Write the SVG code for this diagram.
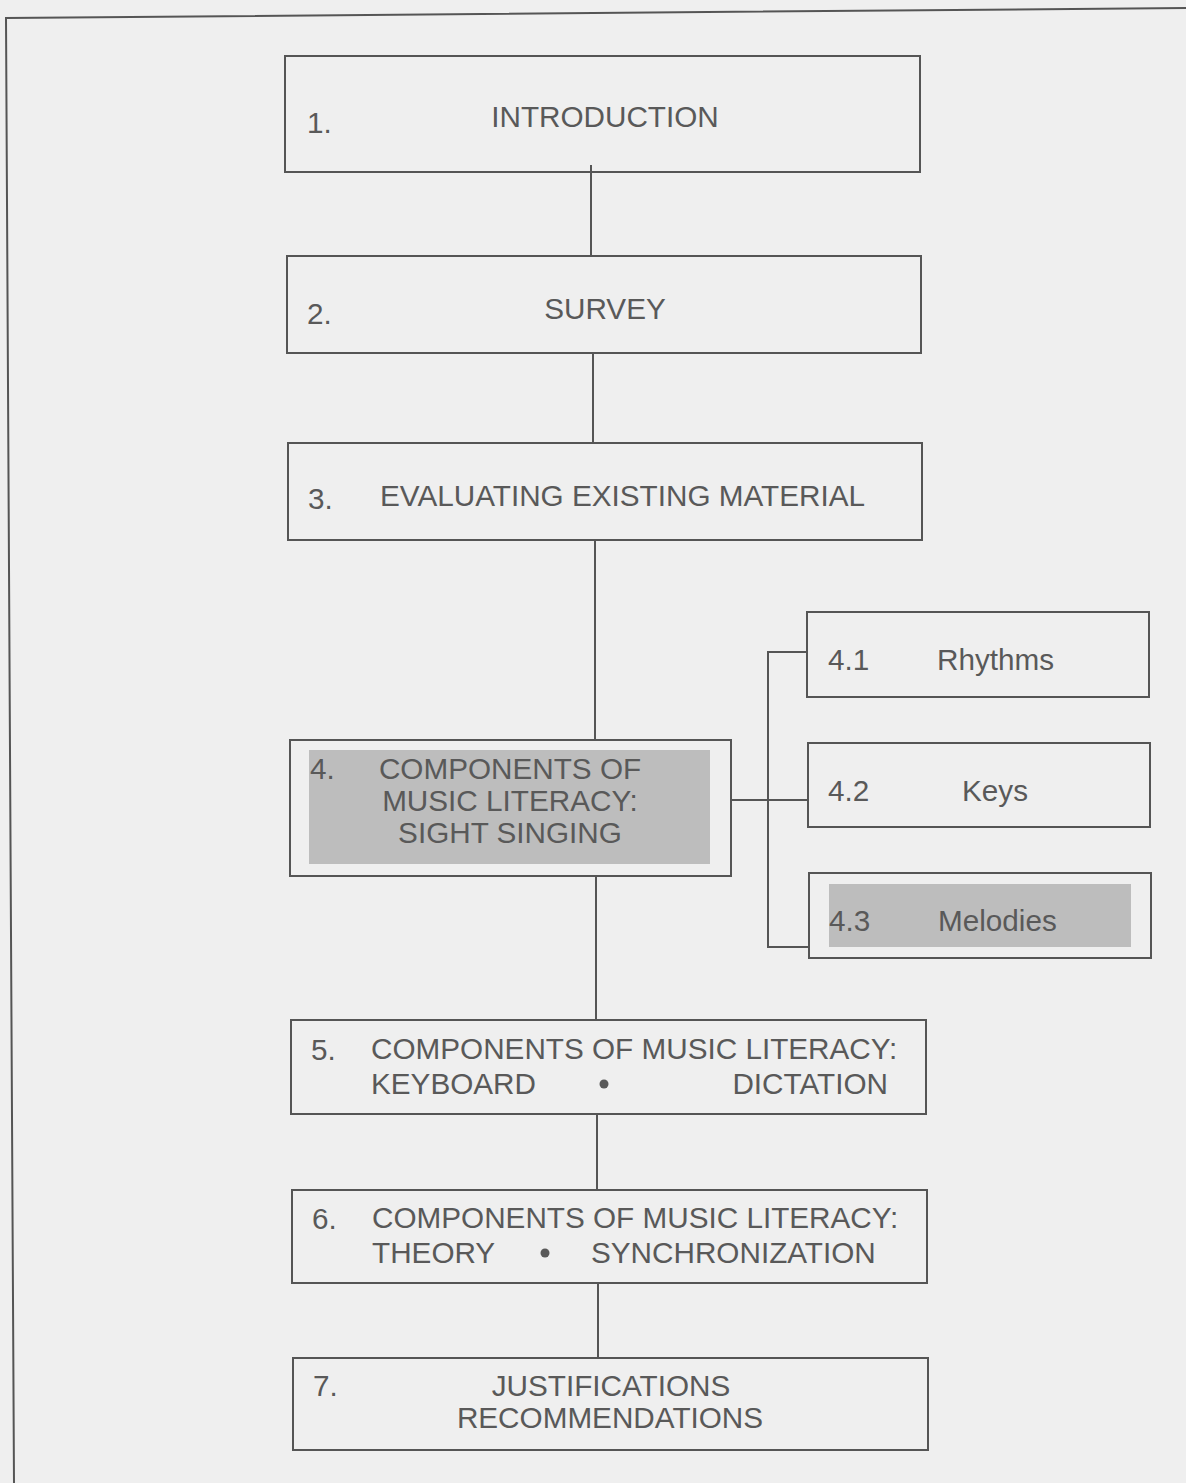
<svg xmlns="http://www.w3.org/2000/svg" width="1186" height="1483" viewBox="0 0 1186 1483">
<style>
.box{fill:none;stroke:#555;stroke-width:2}
.shade{fill:#bdbdbd}
.t{font-family:"Liberation Sans",Arial,sans-serif;font-size:29.7px;fill:#595959}
.m{text-anchor:middle}
.e{text-anchor:end}
.c{stroke:#555;stroke-width:2;fill:none}
</style>
<rect x="0" y="0" width="1186" height="1483" fill="#efefef"/>
<path d="M14,1483 L6,18 L1186,8" class="c"/>
<g id="connectors">
<line x1="591" y1="165" x2="591" y2="256" class="c"/>
<line x1="593" y1="353" x2="593" y2="443" class="c"/>
<line x1="595" y1="540" x2="595" y2="740" class="c"/>
<line x1="596" y1="876" x2="596" y2="1020" class="c"/>
<line x1="597" y1="1114" x2="597" y2="1190" class="c"/>
<line x1="598" y1="1283" x2="598" y2="1358" class="c"/>
<path d="M807,652 H768 V947 H809" class="c"/>
<line x1="731" y1="800" x2="808" y2="800" class="c"/>
</g>
<g id="n1"><rect x="285" y="56" width="635" height="116" class="box"/>
<text x="307" y="133" class="t">1.</text><text x="605" y="127" class="t m">INTRODUCTION</text></g>
<g id="n2"><rect x="287" y="256" width="634" height="97" class="box"/>
<text x="307" y="324" class="t">2.</text><text x="605" y="319" class="t m">SURVEY</text></g>
<g id="n3"><rect x="288" y="443" width="634" height="97" class="box"/>
<text x="308" y="509" class="t">3.</text><text x="380" y="506" class="t">EVALUATING EXISTING MATERIAL</text></g>
<g id="n4"><rect x="290" y="740" width="441" height="136" class="box"/>
<rect x="309" y="750" width="401" height="114" class="shade"/>
<text x="310" y="779" class="t">4.</text>
<text x="510" y="779" class="t m">COMPONENTS OF</text>
<text x="510" y="811" class="t m">MUSIC LITERACY:</text>
<text x="510" y="843" class="t m">SIGHT SINGING</text></g>
<g id="n41"><rect x="807" y="612" width="342" height="85" class="box"/>
<text x="828" y="670" class="t">4.1</text><text x="937" y="670" class="t">Rhythms</text></g>
<g id="n42"><rect x="808" y="743" width="342" height="84" class="box"/>
<text x="828" y="801" class="t">4.2</text><text x="962" y="801" class="t">Keys</text></g>
<g id="n43"><rect x="809" y="873" width="342" height="85" class="box"/>
<rect x="829" y="884" width="302" height="63" class="shade"/>
<text x="829" y="931" class="t">4.3</text><text x="938" y="931" class="t">Melodies</text></g>
<g id="n5"><rect x="291" y="1020" width="635" height="94" class="box"/>
<text x="311" y="1060" class="t">5.</text><text x="371" y="1059" class="t">COMPONENTS OF MUSIC LITERACY:</text>
<text x="371" y="1094" class="t">KEYBOARD</text><circle cx="604" cy="1084" r="4.5" fill="#595959"/>
<text x="888" y="1094" class="t e">DICTATION</text></g>
<g id="n6"><rect x="292" y="1190" width="635" height="93" class="box"/>
<text x="312" y="1229" class="t">6.</text><text x="372" y="1228" class="t">COMPONENTS OF MUSIC LITERACY:</text>
<text x="372" y="1263" class="t">THEORY</text><circle cx="545" cy="1253" r="4.5" fill="#595959"/>
<text x="591" y="1263" class="t">SYNCHRONIZATION</text></g>
<g id="n7"><rect x="293" y="1358" width="635" height="92" class="box"/>
<text x="313" y="1396" class="t">7.</text>
<text x="611" y="1396" class="t m">JUSTIFICATIONS</text>
<text x="610" y="1428" class="t m">RECOMMENDATIONS</text></g>
</svg>
